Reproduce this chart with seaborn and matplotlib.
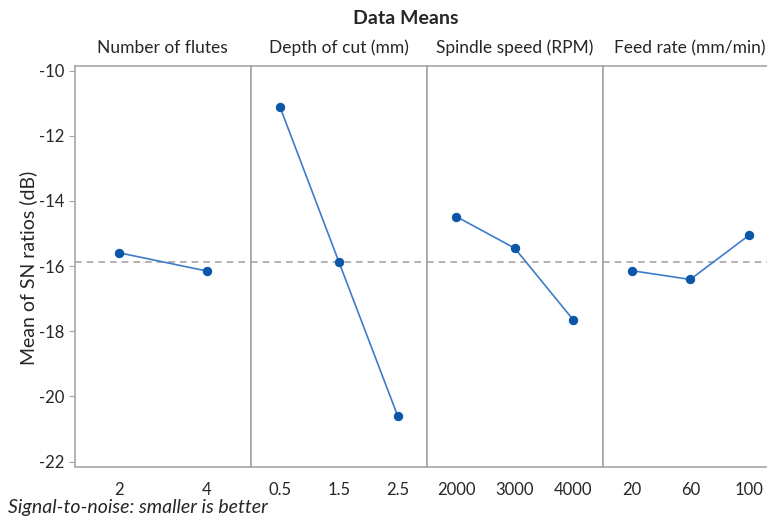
import numpy as np
import pandas as pd
import seaborn as sns
from matplotlib import pyplot as plt

# main effects plot for SN ratios
factors = ["Number of flutes", "Depth of cut (mm)", "Spindle speed (RPM)", "Feed rate (mm/min)"]
flute_levels = ["2", "4"]
flute_sn = [-15.59, -16.15]
depth_levels = ["0.5", "1.5", "2.5"]
depth_sn = [-11.11, -15.86, -20.59]
speed_levels = ["2000", "3000", "4000"]
speed_sn = [-14.48, -15.45, -17.65]
feed_levels = ["20", "60", "100"]
feed_sn = [-16.14, -16.41, -15.06]
overall_mean = -15.86
y_ticks = [-10, -12, -14, -16, -18, -20, -22]

levels = [flute_levels, depth_levels, speed_levels, feed_levels]
values = [flute_sn, depth_sn, speed_sn, feed_sn]

sns.set_style("white")
plt.rcParams['font.family'] = ['Lato', 'DejaVu Sans']

line_col = "#3d7cc9"
dot_col = "#0b56a8"
grey = "#a6a6a6"

W, H = 767, 519
fig = plt.figure(figsize=(W / 100, H / 100), dpi=100)

edges = [75, 250.5, 427, 602.5, 778]
top, bottom = 65.7, 466.5

axes = []
for i, (name, lv, vals) in enumerate(zip(factors, levels, values)):
    x0, x1 = edges[i], edges[i + 1]
    ax = fig.add_axes([x0 / W, 1 - bottom / H, (x1 - x0) / W, (bottom - top) / H])
    df = pd.DataFrame({"pos": np.arange(len(lv)), "sn": vals})
    sns.lineplot(data=df, x="pos", y="sn", ax=ax, color=line_col, linewidth=1.2,
                 marker="o", markersize=6, markerfacecolor=dot_col, markeredgecolor=dot_col)
    ax.axhline(overall_mean, color=grey, linestyle=(0, (4, 3)), linewidth=1.2, zorder=0)
    ax.set_xlim(-0.5, len(lv) - 0.5)
    ax.set_ylim(-22.15, -9.85)
    ax.set_xticks(np.arange(len(lv)))
    ax.set_xticklabels(lv, fontsize=12)
    ax.set_xlabel("")
    ax.set_ylabel("")
    ax.set_yticks(y_ticks)
    for s in ax.spines.values():
        s.set_color(grey)
        s.set_linewidth(1.2)
    ax.tick_params(axis="x", direction="out", length=4, color=grey, pad=7)
    if i == 0:
        ax.set_yticklabels([str(t) for t in y_ticks], fontsize=12)
        ax.tick_params(axis="y", direction="out", length=4, color=grey, left=True)
    else:
        ax.tick_params(axis="y", left=False, labelleft=False)
    ax.text((x0 + x1) / 2 / W, 1 - 48 / H, name, transform=fig.transFigure,
            ha="center", va="center", fontsize=12.5)
    axes.append(ax)

fig.text(28 / W, 1 - 268 / H, "Mean of SN ratios (dB)", rotation=90,
         ha="center", va="center", fontsize=14)
fig.text(406 / W, 1 - 18 / H, "Data Means", ha="center", va="center",
         fontsize=14, fontweight="bold")
fig.text(8 / W, 1 - 507 / H, "Signal-to-noise: smaller is better", ha="left",
         va="center", fontsize=14, style="italic")

fig.savefig("out.png", dpi=100)
plt.close(fig)
